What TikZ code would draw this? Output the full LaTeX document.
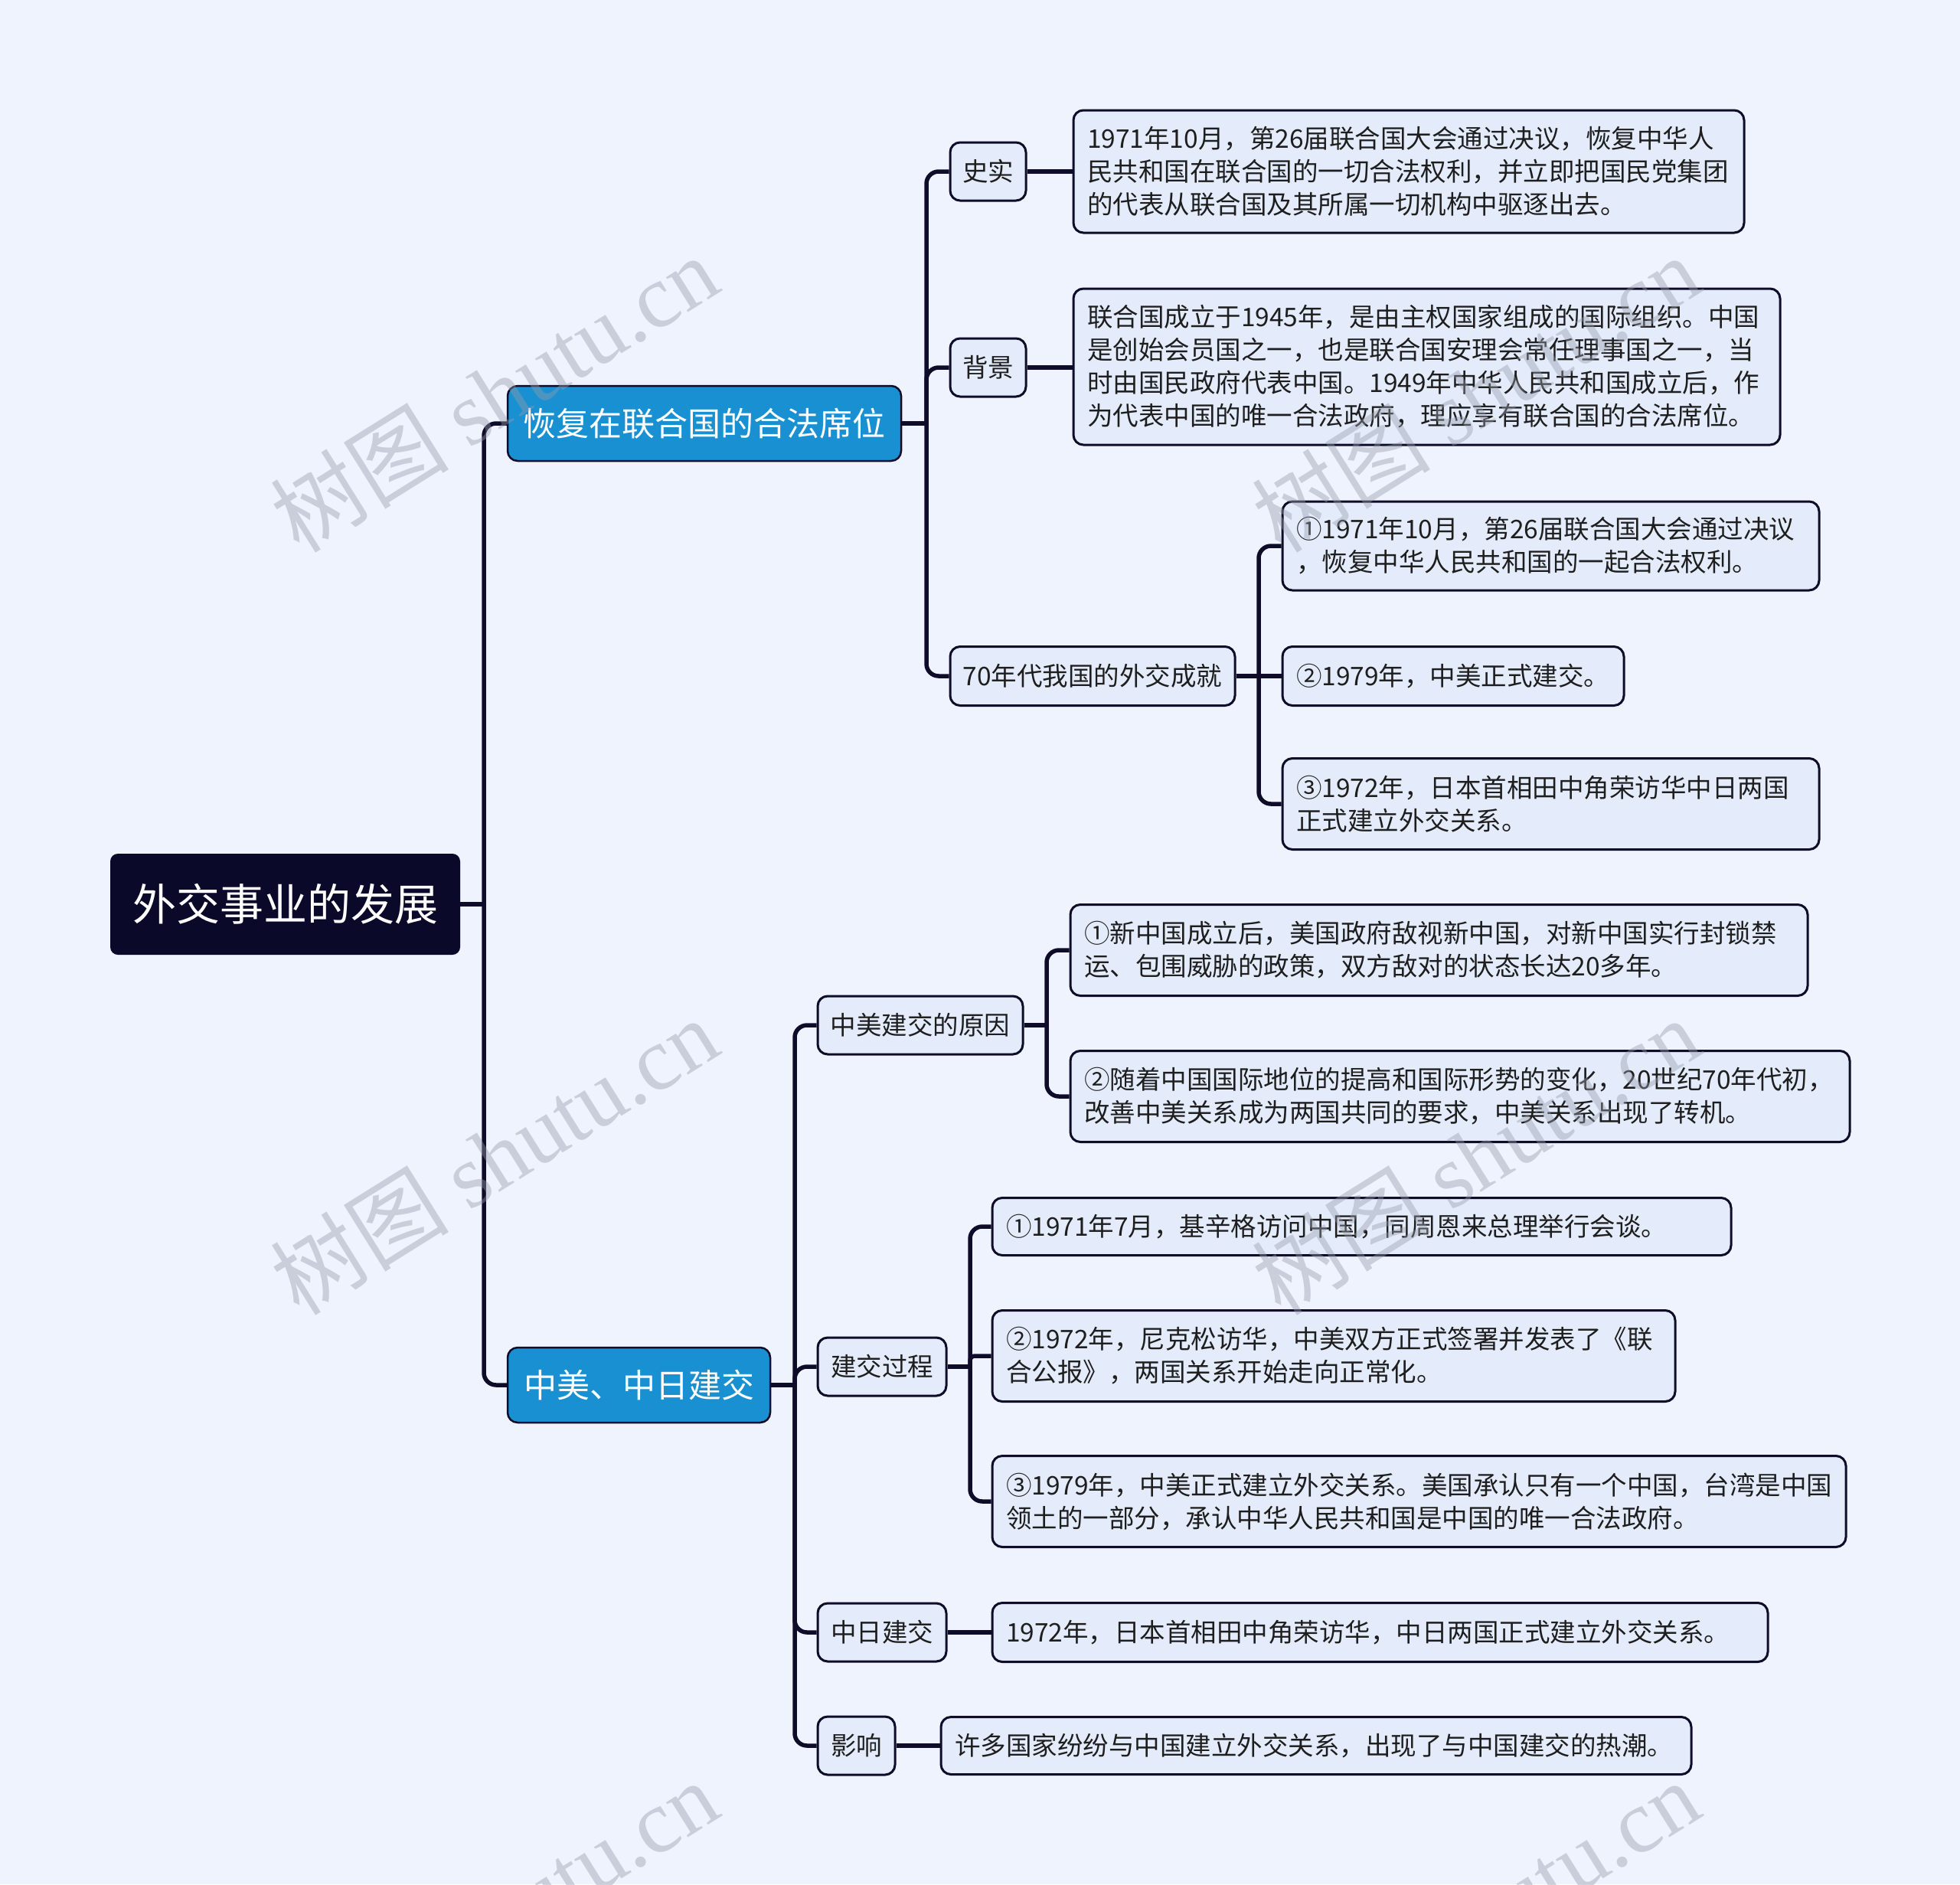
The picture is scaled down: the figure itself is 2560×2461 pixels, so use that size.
\documentclass[tikz,border=0pt]{standalone}
\usepackage{fontspec}
\setmainfont{Noto Sans CJK SC}
\newfontfamily\wmserif{Liberation Serif}
\definecolor{bgC}{RGB}{238,243,254}
\definecolor{boxC}{RGB}{228,236,251}
\definecolor{lineC}{RGB}{14,12,40}
\definecolor{rootC}{RGB}{11,9,42}
\definecolor{blueC}{RGB}{24,144,210}
\definecolor{textC}{RGB}{30,30,30}
\definecolor{wmC}{RGB}{150,156,170}
\begin{document}
\begin{tikzpicture}[x=1pt,y=-1pt,
  conn/.style={line width=5.5pt, draw=lineC, rounded corners=16pt},
  rootbox/.style={fill=rootC, rounded corners=10pt, text=white, font=\fontsize{57}{68}\selectfont, inner sep=0pt},
  topicbox/.style={fill=blueC, draw=lineC, line width=2.5pt, rounded corners=13pt, text=white, font=\fontsize{43}{52}\selectfont, inner sep=0pt},
  subbox/.style={fill=boxC, draw=lineC, line width=3pt, rounded corners=13pt, text=textC, font=\fontsize{33.5}{43}\selectfont, inner sep=0pt},
  leafbox/.style={subbox, align=left, inner xsep=18pt, inner ysep=0pt},
  wm/.style={rotate=32, text=wmC, opacity=0.42, font=\fontsize{117}{122}\selectfont, inner sep=0pt}
]
\useasboundingbox (0,0) rectangle (2560,2461);
\fill[bgC] (0,0) rectangle (2560,2461);

% root and topics
\node[rootbox, minimum width=457, minimum height=132] (root) at (372.5,1181) {外交事业的发展};
\node[topicbox, minimum width=514, minimum height=98] (n1) at (920,553) {恢复在联合国的合法席位};
\node[topicbox, minimum width=343, minimum height=98] (n2) at (834.5,1809) {中美、中日建交};

% level 2
\node[subbox, minimum width=99, minimum height=76] (a1) at (1290.5,224) {史实};
\node[subbox, minimum width=99, minimum height=76] (a2) at (1290.5,480) {背景};
\node[subbox, minimum width=372, minimum height=77] (a3) at (1427,883) {70年代我国的外交成就};
\node[subbox, minimum width=268, minimum height=76] (b1) at (1202,1339) {中美建交的原因};
\node[subbox, minimum width=168, minimum height=76] (b2) at (1152,1785) {建交过程};
\node[subbox, minimum width=168, minimum height=76] (b3) at (1152,2132) {中日建交};
\node[subbox, minimum width=101, minimum height=76] (b4) at (1118.5,2280) {影响};

% level 3
\node[leafbox, text width=840, minimum height=160] (a1c) at (1840,224) {1971年10月，第26届联合国大会通过决议，恢复中华人\\民共和国在联合国的一切合法权利，并立即把国民党集团\\的代表从联合国及其所属一切机构中驱逐出去。};
\node[leafbox, text width=887, minimum height=204] (a2c) at (1863.5,479) {联合国成立于1945年，是由主权国家组成的国际组织。中国\\是创始会员国之一，也是联合国安理会常任理事国之一，当\\时由国民政府代表中国。1949年中华人民共和国成立后，作\\为代表中国的唯一合法政府，理应享有联合国的合法席位。};
\node[leafbox, text width=665, minimum height=116] (a3c1) at (2025.5,713) {①1971年10月，第26届联合国大会通过决议\\，恢复中华人民共和国的一起合法权利。};
\node[leafbox, text width=410, minimum height=77] (a3c2) at (1898,883) {②1979年，中美正式建交。};
\node[leafbox, text width=665, minimum height=119] (a3c3) at (2025.5,1050) {③1972年，日本首相田中角荣访华中日两国\\正式建立外交关系。};
\node[leafbox, text width=927, minimum height=119] (b1c1) at (1879.5,1241) {①新中国成立后，美国政府敌视新中国，对新中国实行封锁禁\\运、包围威胁的政策，双方敌对的状态长达20多年。};
\node[leafbox, text width=982, minimum height=119] (b1c2) at (1907,1432) {②随着中国国际地位的提高和国际形势的变化，20世纪70年代初，\\改善中美关系成为两国共同的要求，中美关系出现了转机。};
\node[leafbox, text width=929, minimum height=75] (b2c1) at (1778.5,1602) {①1971年7月，基辛格访问中国，同周恩来总理举行会谈。};
\node[leafbox, text width=856, minimum height=119] (b2c2) at (1742,1771) {②1972年，尼克松访华，中美双方正式签署并发表了《联\\合公报》，两国关系开始走向正常化。};
\node[leafbox, text width=1079, minimum height=119] (b2c3) at (1853.5,1961) {③1979年，中美正式建立外交关系。美国承认只有一个中国，台湾是中国\\领土的一部分，承认中华人民共和国是中国的唯一合法政府。};
\node[leafbox, text width=977, minimum height=77] (b3c) at (1802.5,2132) {1972年，日本首相田中角荣访华，中日两国正式建立外交关系。};
\node[leafbox, text width=944, minimum height=75] (b4c) at (1719,2280) {许多国家纷纷与中国建立外交关系，出现了与中国建交的热潮。};

% bus coordinates
\coordinate (j0) at (632,0);
\coordinate (j1) at (1210,0);
\coordinate (j2) at (1038,0);
\coordinate (j3) at (1644,0);
\coordinate (j4) at (1367,0);
\coordinate (j5) at (1267,0);

% connectors
\draw[conn] (root.east) -- (root.east -| j0);
\draw[conn] (root.east -| j0) |- (n1.west);
\draw[conn] (root.east -| j0) |- (n2.west);

\draw[conn] (n1.east) -- (n1.east -| j1);
\draw[conn] (n1.east -| j1) |- (a1.west);
\draw[conn] (n1.east -| j1) |- (a2.west);
\draw[conn] (n1.east -| j1) |- (a3.west);

\draw[conn] (a1.east) -- (a1c.west |- a1.east);
\draw[conn] (a2.east) -- (a2c.west |- a2.east);

\draw[conn] (a3.east) -- (a3.east -| j3);
\draw[conn] (a3.east -| j3) |- (a3c1.west);
\draw[conn] (a3.east -| j3) -- (a3c2.west);
\draw[conn] (a3.east -| j3) |- (a3c3.west);

\draw[conn] (n2.east) -- (n2.east -| j2);
\draw[conn] (n2.east -| j2) |- (b1.west);
\draw[conn] (n2.east -| j2) |- (b2.west);
\draw[conn] (n2.east -| j2) |- (b3.west);
\draw[conn] (n2.east -| j2) |- (b4.west);

\draw[conn] (b1.east) -- (b1.east -| j4);
\draw[conn] (b1.east -| j4) |- (b1c1.west);
\draw[conn] (b1.east -| j4) |- (b1c2.west);

\draw[conn] (b2.east) -- (b2.east -| j5);
\draw[conn] (b2.east -| j5) |- (b2c1.west);
\draw[conn, rounded corners=6pt] (b2.east -| j5) |- (b2c2.west);
\draw[conn] (b2.east -| j5) |- (b2c3.west);

\draw[conn] (b3.east) -- (b3c.west |- b3.east);
\draw[conn] (b4.east) -- (b4c.west |- b4.east);

% watermarks
\begin{scope}
\clip (0,0) rectangle (2560,2461);
\node[wm] (w1) at (645,514) {树图 {\wmserif shutu.cn}};
\node[wm] (w2) at (645,1510) {树图 {\wmserif shutu.cn}};
\node[wm] (w3) at (1927,514) {树图 {\wmserif shutu.cn}};
\node[wm] (w4) at (1927,1510) {树图 {\wmserif shutu.cn}};
\node[wm] (w5) at (645,2506) {树图 {\wmserif shutu.cn}};
\node[wm] (w6) at (1927,2506) {树图 {\wmserif shutu.cn}};
\end{scope}
\end{tikzpicture}
\end{document}
